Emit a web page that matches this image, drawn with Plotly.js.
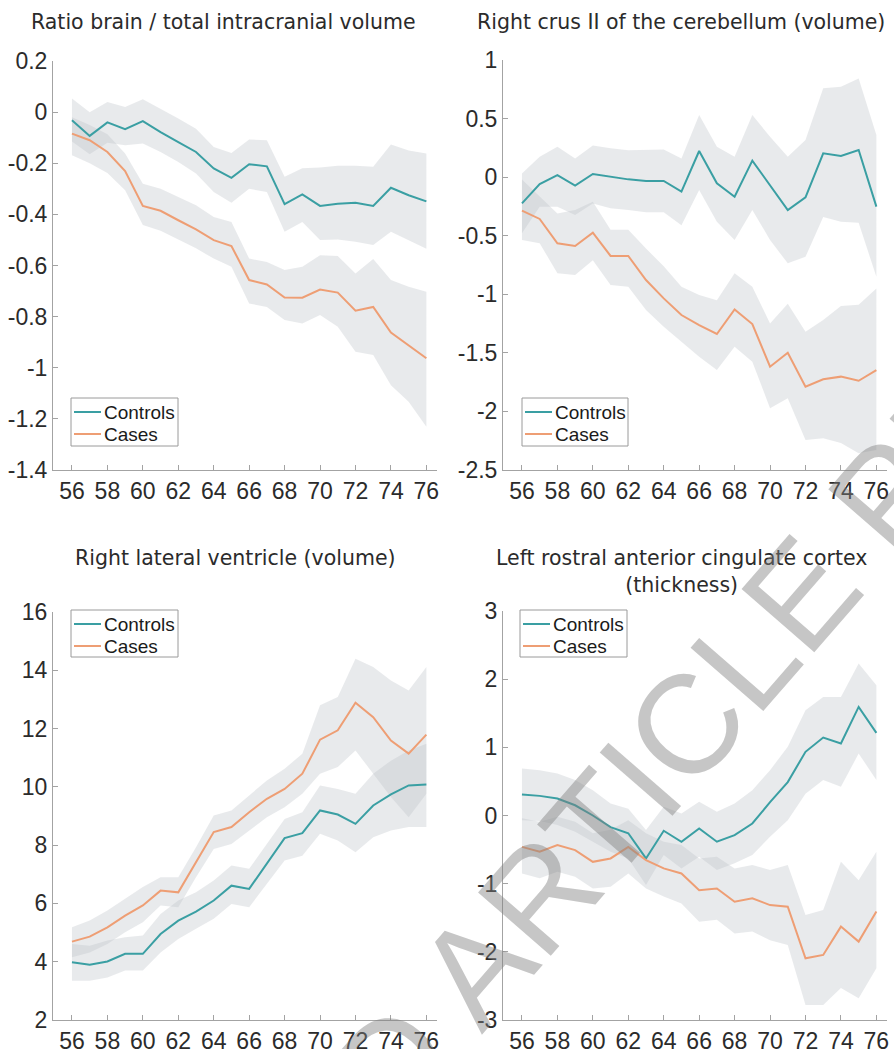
<!DOCTYPE html>
<html><head><meta charset="utf-8">
<script src="https://cdn.plot.ly/plotly-3.0.1.min.js"></script>
<style>html,body{margin:0;padding:0;background:#fff}#chart{width:894px;height:1049px}</style>
</head><body><div id="chart"></div>
<script>
// ---------- data ----------
const ages = [56,57,58,59,60,61,62,63,64,65,66,67,68,69,70,71,72,73,74,75,76];
const xTicks = [56,58,60,62,64,66,68,70,72,74,76];
const seriesNames = ["Controls","Cases"];
const panelTitles = [
  "Ratio brain / total intracranial volume",
  "Right crus II of the cerebellum (volume)",
  "Right lateral ventricle (volume)",
  "Left rostral anterior cingulate cortex<br>(thickness)"
];
const watermarkText = "ACCEPTED ARTICLE PREVIEW";

// Panel 1: ratio brain / TIV
const p1CtrlMean = [-0.032,-0.093,-0.040,-0.067,-0.035,-0.078,-0.117,-0.156,-0.220,-0.257,-0.204,-0.212,-0.360,-0.322,-0.367,-0.358,-0.355,-0.367,-0.296,-0.325,-0.349];
const p1CtrlHigh = [0.053,0.000,0.040,0.020,0.050,0.014,-0.025,-0.065,-0.136,-0.160,-0.107,-0.110,-0.253,-0.220,-0.217,-0.210,-0.210,-0.214,-0.127,-0.150,-0.162];
const p1CtrlLow  = [-0.115,-0.165,-0.120,-0.130,-0.123,-0.156,-0.195,-0.240,-0.312,-0.355,-0.300,-0.312,-0.468,-0.430,-0.500,-0.498,-0.507,-0.520,-0.468,-0.500,-0.534];
const p1CaseMean = [-0.084,-0.110,-0.156,-0.231,-0.367,-0.386,-0.423,-0.459,-0.501,-0.524,-0.657,-0.674,-0.725,-0.726,-0.694,-0.706,-0.777,-0.762,-0.862,-0.911,-0.963];
const p1CaseHigh = [-0.020,-0.050,-0.087,-0.162,-0.280,-0.300,-0.332,-0.364,-0.410,-0.430,-0.573,-0.586,-0.618,-0.605,-0.560,-0.563,-0.631,-0.575,-0.657,-0.683,-0.703];
const p1CaseLow  = [-0.169,-0.200,-0.238,-0.306,-0.442,-0.464,-0.498,-0.533,-0.573,-0.605,-0.749,-0.762,-0.813,-0.827,-0.794,-0.840,-0.937,-0.950,-1.068,-1.133,-1.231];
const p1YTicks = [0.2,0,-0.2,-0.4,-0.6,-0.8,-1,-1.2,-1.4];
const p1YLabels = ["0.2","0","-0.2","-0.4","-0.6","-0.8","-1","-1.2","-1.4"];

// Panel 2: right crus II
const p2CtrlMean = [-0.224,-0.059,0.018,-0.073,0.027,0.004,-0.019,-0.033,-0.033,-0.124,0.223,-0.053,-0.167,0.141,-0.070,-0.281,-0.172,0.203,0.180,0.232,-0.252];
const p2CtrlHigh = [0.032,0.175,0.260,0.160,0.270,0.246,0.230,0.230,0.235,0.160,0.530,0.260,0.175,0.530,0.345,0.175,0.317,0.758,0.772,0.843,0.360];
const p2CtrlLow  = [-0.480,-0.252,-0.252,-0.323,-0.224,-0.266,-0.280,-0.300,-0.300,-0.410,-0.110,-0.380,-0.537,-0.280,-0.537,-0.736,-0.680,-0.340,-0.380,-0.390,-0.850];
const p2CaseMean = [-0.286,-0.357,-0.565,-0.588,-0.474,-0.673,-0.673,-0.878,-1.035,-1.177,-1.263,-1.339,-1.129,-1.254,-1.618,-1.499,-1.789,-1.726,-1.703,-1.738,-1.647];
const p2CaseHigh = [-0.020,-0.167,-0.310,-0.280,-0.210,-0.450,-0.450,-0.610,-0.760,-0.935,-1.006,-1.050,-0.820,-0.935,-1.250,-1.080,-1.320,-1.220,-1.100,-1.090,-0.950];
const p2CaseLow  = [-0.537,-0.565,-0.820,-0.835,-0.710,-0.920,-0.935,-1.134,-1.277,-1.405,-1.533,-1.647,-1.448,-1.575,-1.973,-1.888,-2.244,-2.230,-2.270,-2.358,-2.330];
const p2YTicks = [1,0.5,0,-0.5,-1,-1.5,-2,-2.5];
const p2YLabels = ["1","0.5","0","-0.5","-1","-1.5","-2","-2.5"];

// Panel 3: right lateral ventricle
const p3CtrlMean = [3.98,3.90,4.01,4.27,4.27,4.95,5.41,5.72,6.10,6.61,6.50,7.36,8.24,8.41,9.19,9.05,8.73,9.36,9.74,10.05,10.08];
const p3CtrlHigh = [4.61,4.55,4.73,4.84,4.90,5.64,6.10,6.38,6.79,7.30,7.19,8.04,8.90,9.13,10.05,9.93,9.76,10.45,10.90,11.25,11.48];
const p3CtrlLow  = [3.35,3.35,3.46,3.70,3.70,4.32,4.78,5.13,5.47,5.98,5.87,6.67,7.47,7.64,8.39,8.16,7.76,8.27,8.50,8.62,8.62];
const p3CaseMean = [4.69,4.86,5.18,5.58,5.93,6.44,6.38,7.41,8.45,8.62,9.13,9.59,9.93,10.45,11.62,11.94,12.89,12.39,11.59,11.14,11.79];
const p3CaseHigh = [5.18,5.41,5.76,6.16,6.56,6.90,6.90,7.93,9.02,9.19,9.70,10.22,10.62,11.14,12.80,13.08,14.40,14.11,13.65,13.31,14.11];
const p3CaseLow  = [4.15,4.32,4.61,5.01,5.35,5.93,5.87,6.90,7.87,8.04,8.50,8.96,9.30,9.76,10.45,10.68,11.25,10.45,9.65,8.96,9.76];
const p3YTicks = [16,14,12,10,8,6,4,2];
const p3YLabels = ["16","14","12","10","8","6","4","2"];

// Panel 4: left rostral anterior cingulate cortex thickness
const p4CtrlMean = [0.308,0.288,0.250,0.150,0.000,-0.170,-0.260,-0.630,-0.224,-0.385,-0.190,-0.385,-0.288,-0.117,0.195,0.490,0.934,1.144,1.056,1.593,1.212];
const p4CtrlHigh = [0.690,0.665,0.616,0.520,0.370,0.177,0.100,-0.214,0.128,0.030,0.200,0.054,0.177,0.370,0.665,1.007,1.544,1.740,1.740,2.230,1.910];
const p4CtrlLow  = [-0.070,-0.080,-0.140,-0.240,-0.385,-0.530,-0.630,-1.020,-0.580,-0.776,-0.605,-0.800,-0.700,-0.580,-0.310,-0.070,0.320,0.520,0.420,0.910,0.520];
const p4CaseMean = [-0.460,-0.530,-0.434,-0.508,-0.680,-0.630,-0.460,-0.654,-0.776,-0.850,-1.095,-1.070,-1.265,-1.216,-1.314,-1.338,-2.095,-2.046,-1.630,-1.850,-1.410];
const p4CaseHigh = [-0.040,-0.090,-0.020,-0.090,-0.260,-0.210,-0.070,-0.260,-0.385,-0.434,-0.630,-0.605,-0.776,-0.727,-0.800,-0.727,-1.460,-1.387,-0.680,-0.950,-0.530];
const p4CaseLow  = [-0.850,-0.920,-0.825,-0.900,-1.070,-1.045,-0.850,-1.070,-1.190,-1.290,-1.560,-1.530,-1.730,-1.700,-1.830,-1.900,-2.780,-2.780,-2.530,-2.680,-2.240];
const p4YTicks = [3,2,1,0,-1,-2,-3];
const p4YLabels = ["3","2","1","0","-1","-2","-3"];

// ---------- styling ----------
const W = 894, H = 1049;
const px = v => v / W, py = v => 1 - v / H;
const ctrlColor = "#3a9fa3";
const caseColor = "#ee9e74";
const lineColors = [ctrlColor, caseColor];
const bandColor = "rgba(188,194,200,0.34)";
const axisGray = "#a3a3a3";
const textDark = "#2b2b2b";
const tickFont = {family:"Liberation Sans, Arial, sans-serif", size:23, color:textDark};

const panels = [
  {ctrl:[p1CtrlMean,p1CtrlLow,p1CtrlHigh], cases:[p1CaseMean,p1CaseLow,p1CaseHigh], yt:p1YTicks, yl:p1YLabels, yr:[-1.4,0.2],
   xd:[53,437], yd:[470,61], leg:[71,398,178,446], title:[223,22]},
  {ctrl:[p2CtrlMean,p2CtrlLow,p2CtrlHigh], cases:[p2CaseMean,p2CaseLow,p2CaseHigh], yt:p2YTicks, yl:p2YLabels, yr:[-2.5,1],
   xd:[503,887], yd:[470,60], leg:[522,398,628,446], title:[681,22]},
  {ctrl:[p3CtrlMean,p3CtrlLow,p3CtrlHigh], cases:[p3CaseMean,p3CaseLow,p3CaseHigh], yt:p3YTicks, yl:p3YLabels, yr:[2,16],
   xd:[53,437], yd:[1020,612], leg:[71,610,178,657], title:[235,558]},
  {ctrl:[p4CtrlMean,p4CtrlLow,p4CtrlHigh], cases:[p4CaseMean,p4CaseLow,p4CaseHigh], yt:p4YTicks, yl:p4YLabels, yr:[-3,3],
   xd:[503,887], yd:[1020,611], leg:[520,610,627,657], title:[681,571]}
];

const traces = [];
const layout = {
  width:W, height:H,
  margin:{l:0,r:0,t:0,b:0},
  paper_bgcolor:"#fff", plot_bgcolor:"rgba(0,0,0,0)",
  showlegend:false,
  annotations:[], shapes:[]
};

panels.forEach((p,i)=>{
  const n = i+1;
  const sfx = n===1 ? "" : String(n);
  const xa = "x"+sfx, ya = "y"+sfx;
  const bandX = ages.concat(ages.slice().reverse());
  [p.ctrl,p.cases].forEach(s=>{
    traces.push({x:bandX, y:s[2].concat(s[1].slice().reverse()), xaxis:xa, yaxis:ya,
      type:"scatter", mode:"lines", fill:"toself", fillcolor:bandColor, line:{width:0},
      hoverinfo:"skip"});
  });
  [p.ctrl,p.cases].forEach((s,k)=>{
    traces.push({x:ages, y:s[0], xaxis:xa, yaxis:ya, type:"scatter", mode:"lines",
      name:seriesNames[k], line:{color:lineColors[k],width:2}});
  });

  layout["xaxis"+sfx] = {domain:[px(p.xd[0]),px(p.xd[1])], anchor:ya, range:[54.93,76.6], tickvals:xTicks,
    ticks:"inside", ticklen:5, tickcolor:axisGray, showline:true, linecolor:axisGray, linewidth:1,
    showgrid:false, zeroline:false, tickfont:tickFont, fixedrange:true};
  layout["yaxis"+sfx] = {domain:[py(p.yd[0]),py(p.yd[1])], anchor:xa, range:p.yr, tickvals:p.yt, ticktext:p.yl,
    ticks:"inside", ticklen:5, tickcolor:axisGray, showline:true, linecolor:axisGray, linewidth:1,
    showgrid:false, zeroline:false, tickfont:tickFont, fixedrange:true};

  // legend box (MATLAB style)
  const [lx0,ly0,lx1,ly1] = p.leg;
  layout.shapes.push({type:"rect", xref:"paper", yref:"paper", x0:px(lx0), x1:px(lx1), y0:py(ly0), y1:py(ly1),
    line:{color:"#9a9a9a", width:1}, fillcolor:"#fff", layer:"above"});
  [14,36].forEach((dy,k)=>{
    layout.shapes.push({type:"line", xref:"paper", yref:"paper", x0:px(lx0+3), x1:px(lx0+30),
      y0:py(ly0+dy), y1:py(ly0+dy), line:{color:lineColors[k], width:2}, layer:"above"});
    layout.annotations.push({text:seriesNames[k], xref:"paper", yref:"paper", x:px(lx0+31), y:py(ly0+dy),
      xanchor:"left", yanchor:"middle", showarrow:false,
      font:{family:"Liberation Sans, Arial, sans-serif", size:19, color:"#1a1a1a"}});
  });

  layout.annotations.push({text:panelTitles[i], xref:"paper", yref:"paper", x:px(p.title[0]), y:py(p.title[1]),
    xanchor:"center", yanchor:"middle", showarrow:false,
    font:{family:"DejaVu Sans, Verdana, sans-serif", size:20.5, color:textDark}});
});

layout.annotations.push({text:watermarkText, xref:"paper", yref:"paper", x:px(602), y:py(822),
  xanchor:"center", yanchor:"middle", showarrow:false, textangle:-49,
  font:{family:"Liberation Sans, Arial, sans-serif", size:140, color:"rgba(128,128,128,0.45)"}});

Plotly.newPlot("chart", traces, layout, {staticPlot:true, displayModeBar:false});
</script>
</body></html>
